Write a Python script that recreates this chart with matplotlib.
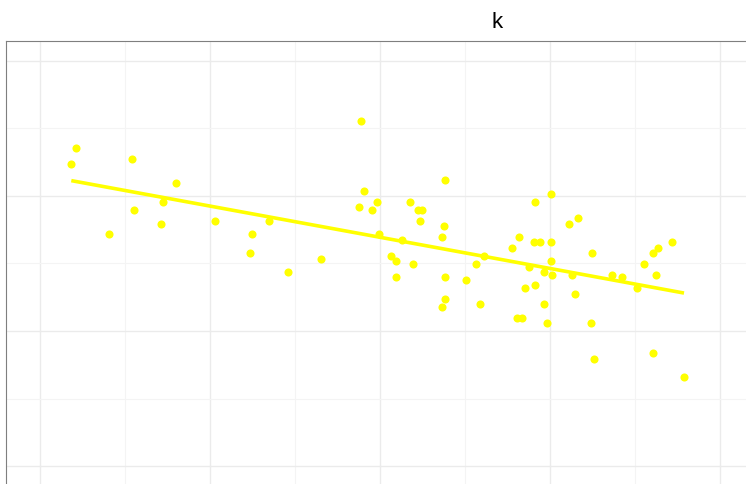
import numpy as np
import matplotlib
matplotlib.use("Agg")
import matplotlib.pyplot as plt
from matplotlib.ticker import MultipleLocator

# observations
x = [2.10, 1.84, 5.39, 8.02, 7.24, 5.55, 7.10, 4.04, 10.29, 13.47, 12.47, 12.37,
     16.53, 14.57, 18.86, 23.84, 19.06, 30.08, 18.76, 19.55, 19.82, 21.75,
     22.25, 22.45, 22.35, 29.10, 31.12, 31.63, 23.76, 23.65, 19.96, 21.31,
     20.65, 20.96, 21.96, 20.92, 23.81, 23.84, 23.65, 25.08, 25.65, 26.14,
     25.86, 27.78, 28.19, 29.04, 29.41, 30.04, 30.04, 28.75, 29.65, 30.14,
     29.10, 28.55, 29.65, 28.04, 28.35, 29.84, 32.49, 31.29, 31.45, 32.39,
     32.59, 33.65, 34.24, 35.14, 35.53, 36.08, 36.34, 37.18, 36.24, 36.08,
     37.88]
y = [23.56, 22.37, 22.76, 20.99, 19.56, 18.96, 17.95, 17.16, 18.17, 18.17,
     17.16, 15.76, 15.36, 14.37, 25.58, 21.16, 20.37, 20.17, 19.19, 18.96,
     19.58, 19.58, 18.96, 18.96, 18.17, 19.58, 17.95, 18.37, 17.76, 16.96,
     17.16, 16.76, 15.56, 15.16, 14.96, 13.98, 13.98, 12.37, 11.76, 13.76,
     14.96, 15.56, 11.98, 16.17, 16.96, 16.57, 16.57, 16.57, 15.16, 14.76,
     14.37, 14.15, 13.39, 13.16, 11.98, 10.96, 10.96, 10.57, 15.76, 14.15,
     12.76, 10.57, 7.95, 14.15, 13.98, 13.16, 14.96, 15.76, 16.17, 16.57,
     14.15, 8.35, 6.57]

# least-squares trend line over the observed range
fit = np.polyfit(x, y, 1)
xs = np.array([min(x), max(x)])
ys = np.polyval(fit, xs)

fig = plt.figure(figsize=(7.46, 4.85), dpi=100)
ax = fig.add_axes([6 / 746, -46 / 485, 982 / 746, 489 / 485])

ax.scatter(x, y, s=34, color="#FFFF00", linewidths=0, zorder=3)
ax.plot(xs, ys, color="#FFFF00", linewidth=2.6, solid_capstyle="butt", zorder=4)

ax.set_xlim(-2, 55.76)
ax.set_ylim(-4.74, 31.48)
ax.xaxis.set_major_locator(MultipleLocator(10))
ax.xaxis.set_minor_locator(MultipleLocator(5))
ax.yaxis.set_major_locator(MultipleLocator(10))
ax.yaxis.set_minor_locator(MultipleLocator(5))
ax.grid(True, which="major", color="#EBEBEB", linewidth=1.0)
ax.grid(True, which="minor", color="#F4F4F4", linewidth=0.8)
ax.set_axisbelow(True)
ax.tick_params(which="both", length=0, labelleft=False, labelbottom=False)
for s in ax.spines.values():
    s.set_color("#7F7F7F")
    s.set_linewidth(0.8)

ax.set_title("k", fontsize=16, pad=10, family="Liberation Sans")

fig.savefig("out.png", dpi=100)
